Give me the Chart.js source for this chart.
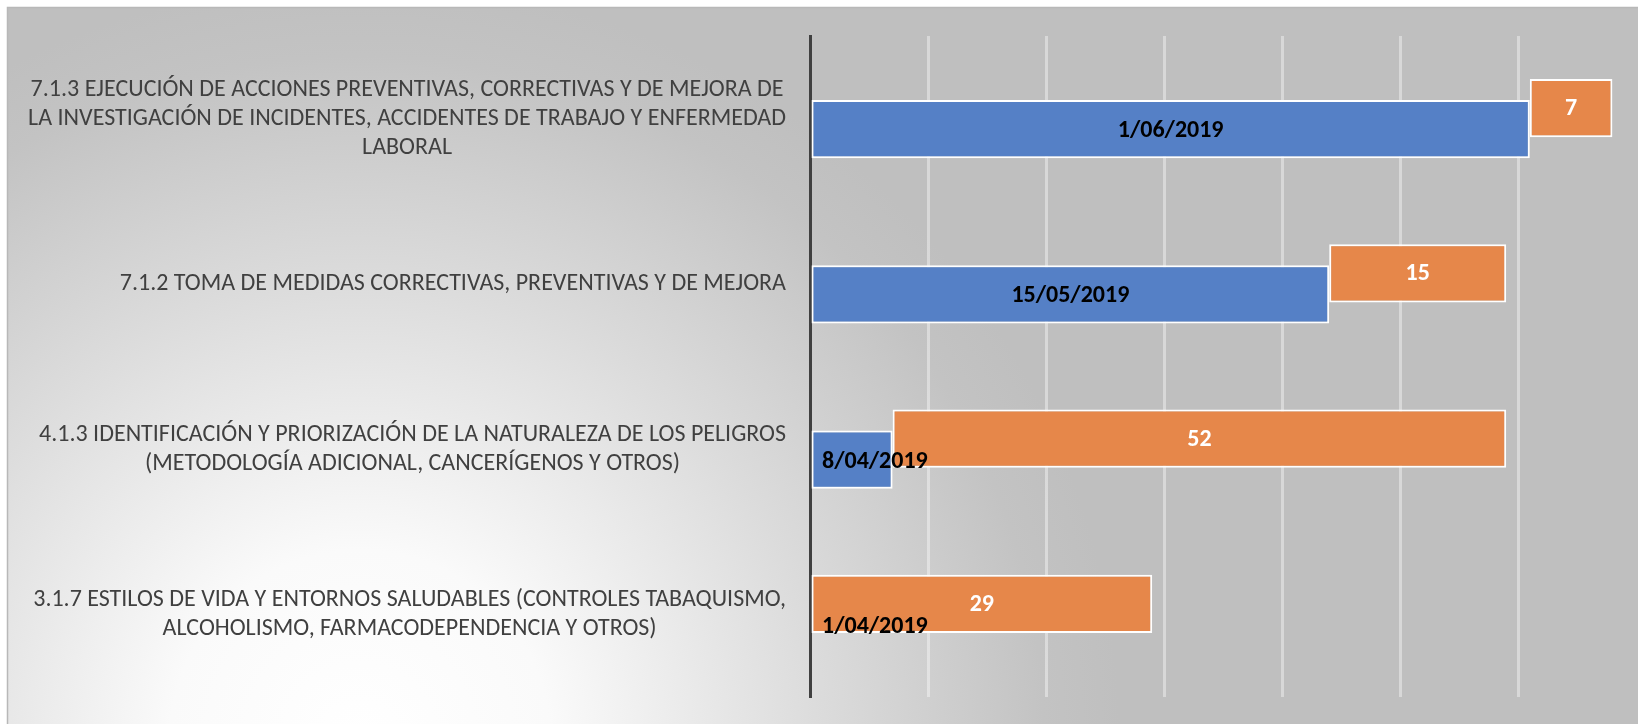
<!DOCTYPE html>
<html lang="es">
<head>
<meta charset="utf-8">
<title>Cronograma de actividades</title>
<script src="https://cdn.jsdelivr.net/npm/chart.js@4.4.1/dist/chart.umd.min.js"></script>
<style>
  html, body { margin: 0; padding: 0; background: #fff; }
  #wrap { position: relative; width: 1638px; height: 724px; }
</style>
</head>
<body>
<div id="wrap"><canvas id="gantt"></canvas></div>
<script>
'use strict';

// datos (de arriba hacia abajo)
const categorias = [
    ['7.1.3 EJECUCIÓN DE ACCIONES PREVENTIVAS, CORRECTIVAS Y DE MEJORA DE', 'LA INVESTIGACIÓN DE INCIDENTES, ACCIDENTES DE TRABAJO Y ENFERMEDAD', 'LABORAL'],
    ['7.1.2 TOMA DE MEDIDAS CORRECTIVAS, PREVENTIVAS Y DE MEJORA'],
    ['4.1.3 IDENTIFICACIÓN Y PRIORIZACIÓN DE LA NATURALEZA DE LOS PELIGROS', '(METODOLOGÍA ADICIONAL, CANCERÍGENOS Y OTROS)'],
    ['3.1.7 ESTILOS DE VIDA Y ENTORNOS SALUDABLES (CONTROLES TABAQUISMO,', 'ALCOHOLISMO, FARMACODEPENDENCIA Y OTROS)']
];
const fechasInicio = ['1/06/2019', '15/05/2019', '8/04/2019', '1/04/2019'];
const duracionDias = [7, 15, 52, 29];
const fechaMinima = '1/04/2019';
const fechaMaxima = '10/06/2019';
const pasoDias = 10;

const AZUL = '#5580c6';
const NARANJA = '#e6874a';
const TEXTO = '#404040';
const FUENTE = 'Calibri, Carlito, Lato, sans-serif';

function diaSerie(str) {
    const [d, m, a] = str.split('/').map(Number);
    return Date.UTC(a, m - 1, d) / 86400000;
}

const base = diaSerie(fechaMinima);
const maxDias = diaSerie(fechaMaxima) - base;
const inicios = fechasInicio.map(f => diaSerie(f) - base);

const fondoPlugin = {
    id: 'fondo',
    beforeDraw(chart) {
        const { ctx, width, height } = chart;
        ctx.save();
        ctx.fillStyle = '#ffffff';
        ctx.fillRect(0, 0, width, height);
        const g = ctx.createRadialGradient(360, 740, 0, 360, 740, 760);
        g.addColorStop(0, '#ffffff');
        g.addColorStop(0.25, '#fafafa');
        g.addColorStop(0.6, '#dcdcdc');
        g.addColorStop(0.9, '#c3c3c3');
        g.addColorStop(1, '#bfbfbf');
        ctx.fillStyle = g;
        ctx.fillRect(7, 7, width - 7, height - 7);
        ctx.strokeStyle = '#b8b8b8';
        ctx.lineWidth = 1.5;
        ctx.beginPath();
        ctx.moveTo(7.5, height);
        ctx.lineTo(7.5, 7.5);
        ctx.lineTo(width, 7.5);
        ctx.stroke();
        ctx.restore();
    }
};

const etiquetasPlugin = {
    id: 'etiquetas',
    afterDatasetsDraw(chart) {
        const { ctx, chartArea, scales } = chart;
        ctx.save();

        // nombres de las actividades, bloque alineado a la derecha con líneas centradas
        ctx.font = `24px ${FUENTE}`;
        ctx.fillStyle = TEXTO;
        ctx.textAlign = 'center';
        ctx.textBaseline = 'middle';
        categorias.forEach((lineas, i) => {
            const yc = scales.y.getPixelForValue(i);
            const ancho = Math.max(...lineas.map(l => ctx.measureText(l).width));
            const cx = chartArea.left - 24 - ancho / 2;
            lineas.forEach((l, k) => {
                ctx.fillText(l, cx, yc + (k - (lineas.length - 1) / 2) * 29);
            });
        });

        // duración (naranja)
        ctx.font = `bold 24px ${FUENTE}`;
        ctx.fillStyle = '#ffffff';
        chart.getDatasetMeta(0).data.forEach((bar, i) => {
            ctx.fillText(String(duracionDias[i]), (bar.x + bar.base) / 2, bar.y + 1);
        });

        // fecha de inicio (azul)
        ctx.fillStyle = '#000000';
        chart.getDatasetMeta(1).data.forEach((bar, i) => {
            const txt = fechasInicio[i];
            const w = ctx.measureText(txt).width;
            let cx = (bar.x + bar.base) / 2;
            if (w > Math.abs(bar.x - bar.base)) cx = Math.max(cx, chartArea.left + 12 + w / 2);
            ctx.fillText(txt, cx, bar.y + 2);
        });
        ctx.restore();
    }
};

new Chart(document.getElementById('gantt'), {
    type: 'bar',
    data: {
        labels: categorias,
        datasets: [
            {
                label: 'Duración',
                data: inicios.map((s, i) => [s, s + duracionDias[i]]),
                backgroundColor: NARANJA,
                borderColor: '#ffffff',
                borderWidth: 2,
                borderSkipped: false
            },
            {
                label: 'Fecha de inicio',
                data: inicios.map(s => [0, s]),
                backgroundColor: AZUL,
                borderColor: '#ffffff',
                borderWidth: 2,
                borderSkipped: false
            }
        ]
    },
    options: {
        indexAxis: 'y',
        responsive: true,
        maintainAspectRatio: false,
        animation: false,
        categoryPercentage: 0.2545,
        barPercentage: 2.76,
        layout: { padding: { left: 810, right: 2, top: 36, bottom: 27 } },
        plugins: { legend: { display: false }, tooltip: { enabled: false } },
        scales: {
            x: {
                type: 'linear',
                min: 0,
                max: maxDias,
                ticks: { display: false, stepSize: pasoDias },
                grid: {
                    drawTicks: false,
                    lineWidth: 3,
                    color: c => (c.tick && (c.tick.value === 0 || c.tick.value === maxDias)) ? 'rgba(0,0,0,0)' : 'rgba(255,255,255,0.4)'
                },
                border: { display: false }
            },
            y: {
                ticks: { display: false },
                grid: { display: false, drawTicks: false },
                border: { display: true, color: TEXTO, width: 3 }
            }
        }
    },
    plugins: [fondoPlugin, etiquetasPlugin]
});
</script>
</body>
</html>
